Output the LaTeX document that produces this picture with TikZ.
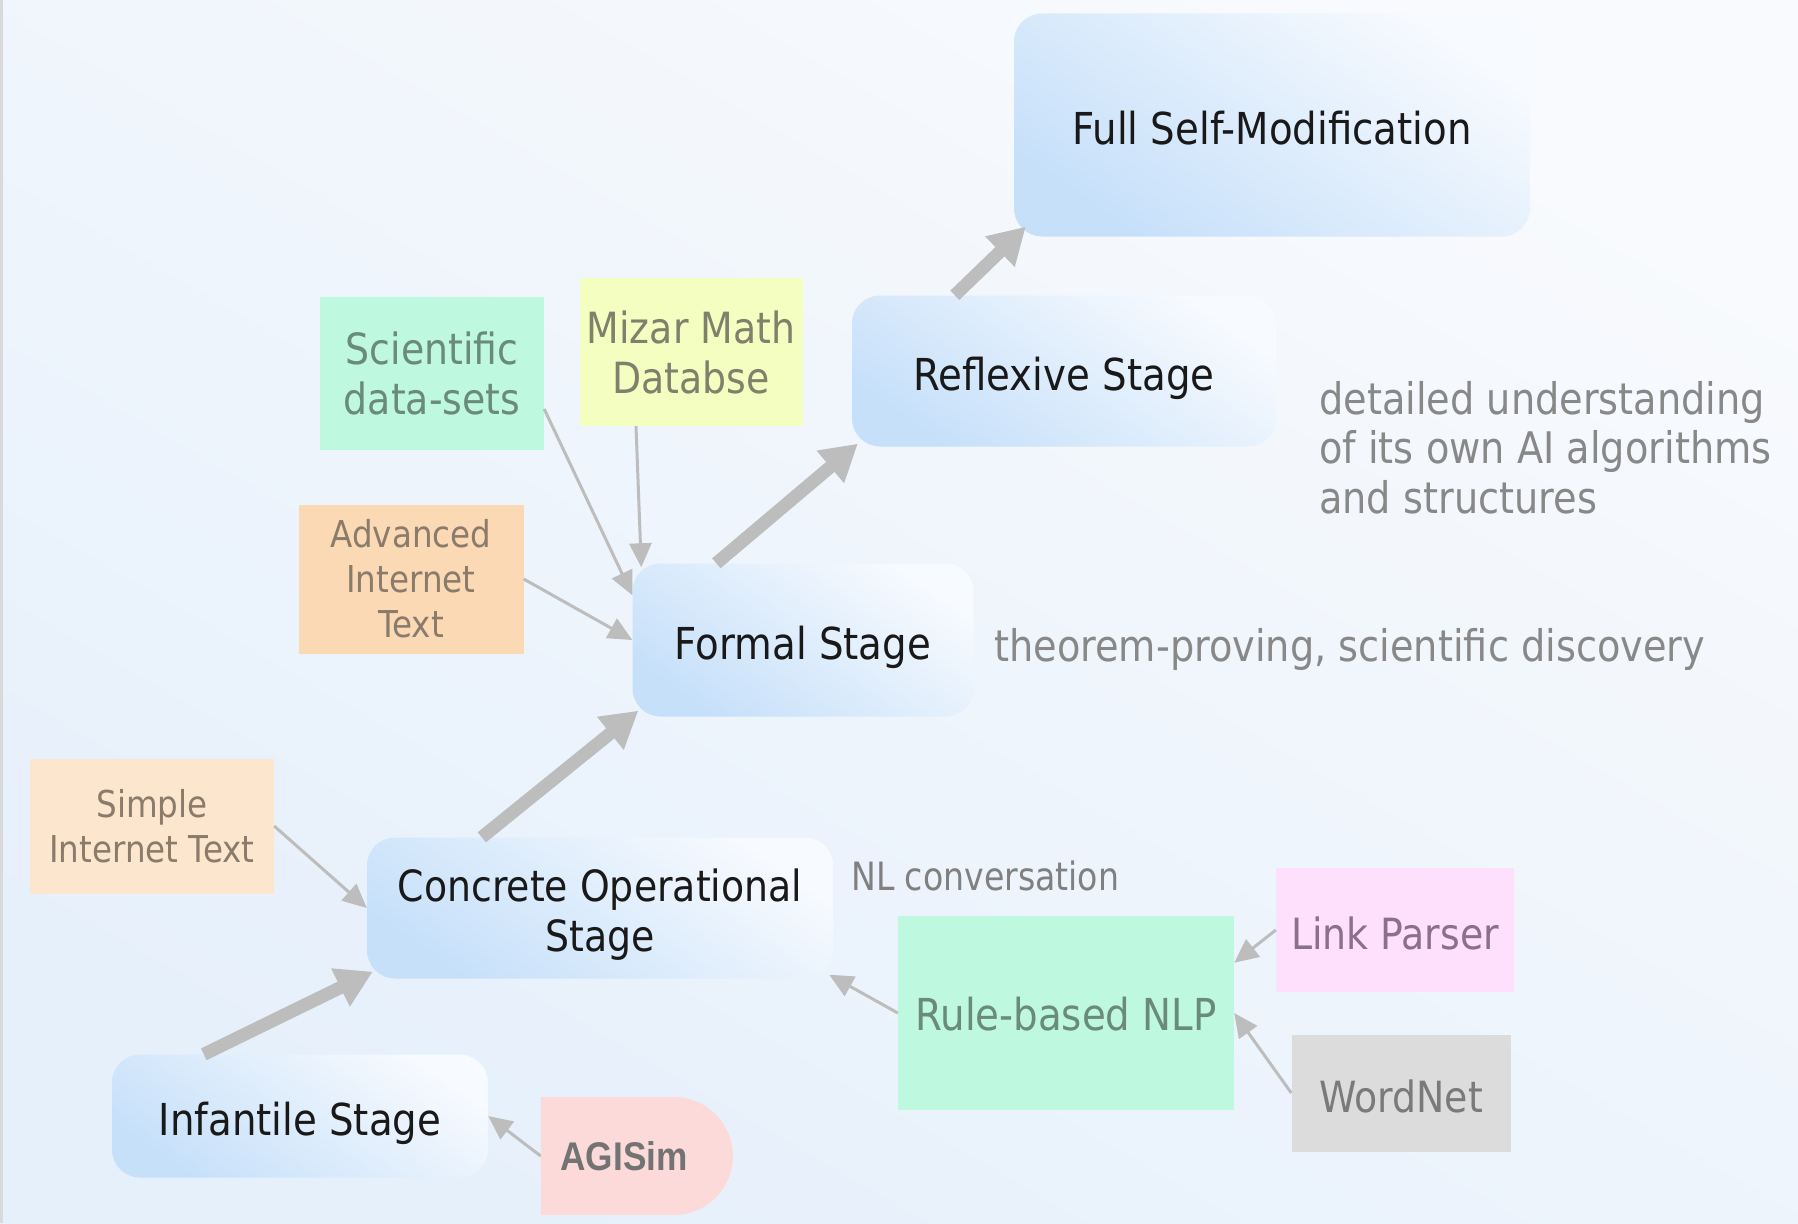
\documentclass[tikz,border=0pt]{standalone}
\usepackage{fontspec}
\setmainfont[FakeStretch=0.88]{DejaVu Sans}
\newfontfamily\narrowfont[FakeStretch=0.85]{DejaVu Sans}
\newfontfamily\boldarial[FakeStretch=0.88]{Liberation Sans Bold}
\usetikzlibrary{arrows.meta,shapes.misc}

\definecolor{bgtop}{HTML}{F8FAFD}
\definecolor{bgbot}{HTML}{E6F0FB}
\definecolor{stageblue}{HTML}{C6E0FA}
\definecolor{stagemid}{HTML}{E8F2FD}
\definecolor{stagelight}{HTML}{F7FAFE}
\definecolor{arrowgray}{HTML}{BDBDBD}
\definecolor{mint}{HTML}{BEF8DE}
\definecolor{minttext}{HTML}{6A8A7A}
\definecolor{lemon}{HTML}{F4FEC0}
\definecolor{lemontext}{HTML}{80806C}
\definecolor{peach}{HTML}{FBD9B5}
\definecolor{peachlight}{HTML}{FDE6CE}
\definecolor{peachtext}{HTML}{8B7B6B}
\definecolor{pink}{HTML}{FEE0FC}
\definecolor{pinktext}{HTML}{8A708A}
\definecolor{silver}{HTML}{DCDCDC}
\definecolor{silvertext}{HTML}{7A7A7A}
\definecolor{rose}{HTML}{FDDADA}
\definecolor{notegray}{HTML}{888888}

\tikzset{
  stagebox/.style={rectangle, rounded corners=28pt, inner sep=0pt,
    bottom color=stageblue, middle color=stagemid, top color=stagelight,
    shading angle=-35, text=black!90, align=center,
    font=\fontsize{44}{50}\selectfont},
  oneline/.style={text height=39pt, text depth=0pt},
  srcbox/.style={rectangle, inner sep=0pt, align=center,
    font=\fontsize{43}{50}\selectfont},
  webbox/.style={rectangle, inner sep=0pt, align=center,
    font=\fontsize{37}{45}\selectfont, text=peachtext},
  note/.style={inner sep=0pt, anchor=west, text=notegray, align=left,
    font=\fontsize{43.5}{49.5}\selectfont},
  bigarrow/.style={draw=arrowgray, line width=13pt,
    -{Triangle[length=36pt,width=40pt]}},
  thinarrow/.style={draw=arrowgray, line width=3pt,
    -{Triangle[length=24pt,width=22pt]}}
}

\begin{document}
\begin{tikzpicture}[x=1pt, y=-1pt]
  \useasboundingbox (0,0) rectangle (1798,1223);
  % background wash and left border line
  \shade[bottom color=bgbot, top color=bgtop, shading angle=-30] (0,0) rectangle (1798,1223);
  \fill[black!15] (0,0) rectangle (3,1223);

  % developmental stages
  \node[stagebox, oneline, minimum width=516pt, minimum height=223pt] (fsm) at (1272,125) {Full Self-Modification};
  \node[stagebox, oneline, minimum width=424pt, minimum height=151pt] (refl) at (1064,371) {Reflexive Stage};
  \node[stagebox, oneline, minimum width=341pt, minimum height=153pt] (formal) at (803,640) {Formal Stage};
  \node[stagebox, text height=87pt, text depth=0pt, minimum width=466pt, minimum height=141pt,
        font=\fontsize{43}{50}\selectfont] (concrete) at (600,908)
        {\begin{tabular}[b]{@{}c@{}}Concrete Operational\\Stage\end{tabular}};
  \node[stagebox, oneline, minimum width=376pt, minimum height=123pt] (infant) at (300,1116) {Infantile Stage};

  % knowledge sources
  \node[srcbox, fill=mint, text=minttext, minimum width=224pt, minimum height=153pt] (sci) at (432,373) {Scientific\\data-sets};
  \node[srcbox, fill=lemon, text=lemontext, minimum width=223pt, minimum height=148pt] (mizar) at (691,352) {Mizar Math\\Databse};
  \node[webbox, fill=peach, minimum width=225pt, minimum height=149pt] (adv) at (411,579) {Advanced\\Internet\\Text};
  \node[webbox, fill=peachlight, minimum width=244pt, minimum height=135pt] (simple) at (152,826) {Simple\\Internet Text};
  \node[srcbox, text height=34pt, text depth=0pt, fill=mint, text=minttext, minimum width=336pt, minimum height=194pt,
        font=\fontsize{44}{50}\selectfont] (nlp) at (1066,1013) {Rule-based NLP};
  \node[srcbox, oneline, fill=pink, text=pinktext, minimum width=238pt, minimum height=124pt] (link) at (1395,930) {Link Parser};
  \node[srcbox, oneline, fill=silver, text=silvertext, minimum width=219pt, minimum height=117pt] (wordnet) at (1401,1093) {WordNet};
  \node[rounded rectangle, rounded rectangle west arc=none, fill=rose, inner sep=0pt,
        minimum width=192pt, minimum height=118pt, text=black!55,
        font=\boldarial\fontsize{40}{46}\selectfont] (agisim) at (636,1156) {\hspace*{-24pt}AGISim};

  % side notes
  \node[note] (thm) at (994,649) {theorem-proving, scientific discovery};
  \node[note, anchor=north west] (detail) at (1319,381) {detailed understanding\\of its own AI algorithms\\and structures};
  \node[inner sep=0pt, anchor=west, text=black!50,
        font=\narrowfont\fontsize{39}{45}\selectfont] (nlconv) at (851,876) {NL conversation};

  % progression between stages
  \draw[bigarrow] ([xshift=92pt]infant.north west) -- ([xshift=6pt,yshift=7pt]concrete.south west);
  \draw[bigarrow] ([xshift=115pt]concrete.north west) -- ([xshift=6pt,yshift=6pt]formal.south west);
  \draw[bigarrow] ([xshift=84pt]formal.north west) -- ([xshift=6pt,yshift=3pt]refl.south west);
  \draw[bigarrow] ([xshift=103pt]refl.north west) -- ([xshift=12pt,yshift=10pt]fsm.south west);

  % inputs feeding the stages
  \draw[thinarrow] ([yshift=-36pt]sci.east) -- ([yshift=-32pt]formal.north west);
  \draw[thinarrow] ([xshift=-55pt]mizar.south) -- ([xshift=9pt,yshift=-4pt]formal.north west);
  \draw[thinarrow] (adv.east) -- (formal.west);
  \draw[thinarrow] (simple.east) -- (concrete.west);
  \draw[thinarrow] (nlp.west) -- ([xshift=-4pt,yshift=4pt]concrete.south east);
  \draw[thinarrow] (link.west) -- ([yshift=-47pt]nlp.north east);
  \draw[thinarrow] (wordnet.west) -- (nlp.east);
  \draw[thinarrow] (agisim.west) -- (infant.east);
\end{tikzpicture}
\end{document}
